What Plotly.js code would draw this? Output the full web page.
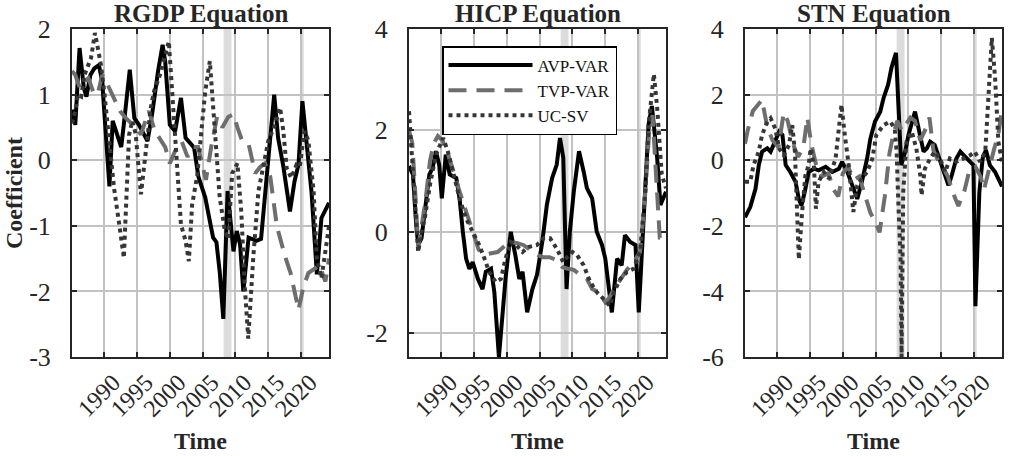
<!DOCTYPE html>
<html>
<head>
<meta charset="utf-8">
<script src="https://cdn.plot.ly/plotly-3.0.1.min.js"></script>
<style>
  html, body { margin: 0; padding: 0; background: #fff; }
  #chart { width: 1010px; height: 456px; }
</style>
</head>
<body>
<div id="chart"></div>
<script>
// ---- data (year, coefficient) ----
const seriesNames = ['AVP-VAR', 'TVP-VAR', 'UC-SV'];
const panelTitles = ['RGDP Equation', 'HICP Equation', 'STN Equation'];
const xTicks = [1990, 1995, 2000, 2005, 2010, 2015, 2020];
const recStart = [2008.2, 2019.85];
const recEnd = [2009.4, 2020.4];

// RGDP equation
const rgdpAvpT = [1985.1, 1985.6, 1986.25, 1986.9, 1987.3, 1987.9, 1988.5, 1989.2, 1989.7, 1990.1, 1990.8, 1991.3, 1992.2, 1992.6, 1993.0, 1993.9, 1994.6, 1995.3, 1996.6, 1997.3, 1998.2, 1998.9, 1999.3, 2000.0, 2000.8, 2001.7, 2002.4, 2003.7, 2004.35, 2005.4, 2006.1, 2006.6, 2007.1, 2007.6, 2008.15, 2008.8, 2009.7, 2010.2, 2010.7, 2011.2, 2012.0, 2013.2, 2013.9, 2015.9, 2016.5, 2017.3, 2018.3, 2019.0, 2019.6, 2020.2, 2021.6, 2022.4, 2023.1, 2024.25];
const rgdpAvpV = [0.77, 0.54, 1.71, 1.1, 0.97, 1.3, 1.4, 1.45, 1.2, 0.6, -0.4, 0.6, 0.3, 0.2, 0.55, 1.38, 0.64, 0.54, 0.29, 0.7, 1.35, 1.76, 1.5, 0.54, 0.44, 0.95, 0.34, 0.19, -0.25, -0.57, -0.93, -1.18, -1.25, -1.7, -2.42, -0.47, -1.39, -1.08, -1.28, -2.0, -1.18, -1.23, -1.2, 1.0, 0.34, -0.1, -0.78, -0.32, -0.07, 0.9, -0.5, -1.74, -0.88, -0.65];
const rgdpTvpT = [1985.1, 1985.6, 1986.3, 1987.0, 1987.6, 1988.3, 1989.0, 1989.7, 1990.3, 1991.5, 1992.4, 1993.3, 1994.4, 1995.6, 1996.8, 1997.7, 1998.6, 1999.3, 2000.0, 2000.8, 2001.8, 2002.7, 2003.5, 2004.3, 2005.5, 2006.3, 2007.2, 2008.0, 2008.9, 2009.7, 2010.3, 2011.0, 2012.0, 2013.0, 2013.8, 2014.5, 2015.3, 2016.3, 2017.5, 2018.4, 2019.6, 2020.3, 2021.1, 2022.0, 2022.8, 2023.7, 2024.25];
const rgdpTvpV = [1.36, 1.3, 1.1, 1.2, 1.25, 1.05, 1.0, 1.3, 1.2, 0.95, 0.75, 0.64, 0.54, 0.39, 0.75, 0.45, 0.3, 0.2, -0.05, 0.14, 0.29, 0.05, 0.2, 0.2, -0.3, 0.2, 0.66, 0.5, 0.66, 0.7, 0.5, 0.3, 0.25, -0.2, -0.1, -0.05, -0.25, -1.0, -1.45, -1.72, -2.28, -1.95, -1.72, -1.65, -1.6, -1.85, -1.5];
const rgdpUcT = [1985.1, 1985.6, 1986.0, 1986.5, 1987.0, 1988.0, 1988.6, 1989.5, 1990.0, 1990.8, 1991.5, 1992.3, 1993.0, 1993.3, 1993.8, 1994.3, 1994.8, 1995.6, 1996.4, 1997.1, 1997.6, 1998.5, 1999.85, 2000.2, 2000.7, 2001.2, 2001.7, 2002.4, 2002.9, 2003.4, 2004.2, 2004.9, 2005.4, 2006.1, 2006.6, 2007.1, 2007.6, 2008.4, 2008.9, 2009.5, 2010.3, 2010.9, 2011.4, 2011.95, 2012.7, 2013.5, 2014.3, 2015.0, 2016.0, 2016.8, 2017.3, 2017.8, 2018.5, 2019.3, 2019.8, 2020.5, 2021.1, 2021.9, 2022.4, 2023.1, 2023.9, 2024.25];
const rgdpUcV = [0.56, 0.75, 1.0, 0.97, 1.3, 1.56, 1.94, 1.46, 1.05, 0.29, -0.42, -0.98, -1.49, -0.78, 0.39, 0.6, 0.4, -0.52, 0.14, 0.8, 1.05, 1.3, 1.81, 1.3, 0.54, -0.32, -0.98, -1.23, -1.54, -0.68, -0.22, 0.54, 1.05, 1.51, 0.75, 0.04, -0.57, -1.08, -1.2, -0.2, -0.05, -0.8, -1.9, -2.72, -1.5, -0.47, -0.07, 0.29, 0.54, 0.8, 0.44, -0.12, -0.27, -0.07, -0.1, 0.44, 0.3, -0.47, -1.5, -1.8, -1.25, -1.0];

// HICP equation
const hicpAvpT = [1985.1, 1985.7, 1986.2, 1986.5, 1987.0, 1987.5, 1988.2, 1988.7, 1989.2, 1989.7, 1990.1, 1990.7, 1991.3, 1992.3, 1992.8, 1993.3, 1993.8, 1994.3, 1994.8, 1995.6, 1996.3, 1996.8, 1997.6, 1998.1, 1998.8, 1999.8, 2000.6, 2001.3, 2001.9, 2002.4, 2003.1, 2003.9, 2004.6, 2005.4, 2006.1, 2006.9, 2007.6, 2008.1, 2008.6, 2009.1, 2009.6, 2010.2, 2011.0, 2011.7, 2012.2, 2013.0, 2013.7, 2014.5, 2015.0, 2016.0, 2016.8, 2017.5, 2018.0, 2018.8, 2019.6, 2020.1, 2020.8, 2021.6, 2022.1, 2022.9, 2023.4, 2024.25];
const hicpAvpV = [1.3, 1.13, 0.13, -0.26, -0.13, 0.4, 1.13, 1.26, 1.59, 1.32, 0.66, 1.52, 1.13, 1.06, 0.66, 0.0, -0.53, -0.73, -0.6, -0.93, -1.13, -0.79, -0.73, -1.19, -2.47, -0.93, 0.0, -0.46, -0.93, -0.79, -1.59, -1.13, -0.85, -0.2, 0.53, 1.06, 1.32, 1.85, 1.46, -1.13, 0.0, 0.79, 1.59, 1.19, 0.86, 0.66, 0.0, -0.26, -0.53, -1.59, -0.53, -0.66, -0.07, -0.2, -0.26, -1.59, 0.0, 2.12, 2.48, 1.46, 0.53, 0.79];
const hicpTvpT = [1985.1, 1985.6, 1986.0, 1986.5, 1987.0, 1987.6, 1988.3, 1988.9, 1989.5, 1990.2, 1991.0, 1991.8, 1992.8, 1993.8, 1994.8, 1995.7, 1996.6, 1997.6, 1998.6, 1999.5, 2000.5, 2001.5, 2002.5, 2003.5, 2004.5, 2005.5, 2006.5, 2007.6, 2008.5, 2009.3, 2010.2, 2011.2, 2012.2, 2013.0, 2014.0, 2015.0, 2015.6, 2016.5, 2017.3, 2018.3, 2019.3, 2020.3, 2021.0, 2021.7, 2022.2, 2022.8, 2023.3, 2024.25];
const hicpTvpV = [2.0, 1.75, 0.9, -0.3, 0.1, 0.6, 1.4, 1.75, 1.89, 1.8, 1.55, 1.2, 0.8, 0.4, 0.0, -0.35, -0.45, -0.43, -0.4, -0.3, -0.2, -0.22, -0.26, -0.35, -0.45, -0.5, -0.5, -0.56, -0.7, -0.73, -0.75, -0.85, -0.93, -1.13, -1.19, -1.39, -1.3, -1.1, -0.93, -0.75, -0.6, -0.4, 0.6, 2.0, 2.3, 1.0, -0.12, -0.17];
const hicpUcT = [1985.1, 1985.3, 1985.8, 1986.5, 1987.0, 1987.5, 1988.3, 1989.2, 1990.3, 1991.0, 1991.8, 1992.8, 1993.8, 1994.8, 1995.8, 1996.6, 1997.3, 1998.3, 1999.1, 1999.8, 2000.6, 2001.4, 2002.4, 2003.3, 2004.6, 2005.6, 2006.6, 2007.6, 2008.6, 2009.4, 2010.0, 2010.7, 2011.7, 2012.7, 2013.7, 2014.7, 2015.7, 2016.3, 2017.3, 2018.3, 2019.3, 2020.3, 2021.1, 2021.6, 2022.4, 2022.9, 2023.6, 2024.25];
const hicpUcV = [2.38, 1.99, 0.79, -0.4, 0.0, 0.26, 0.93, 1.52, 1.85, 1.59, 1.19, 0.66, 0.26, 0.0, -0.26, -0.53, -0.79, -0.99, -0.93, -0.53, -0.2, -0.26, -0.4, -0.3, -0.26, -0.13, -0.13, -0.33, -0.6, -0.46, -0.4, -0.46, -0.66, -0.99, -1.19, -1.32, -1.46, -1.19, -0.93, -0.79, -0.73, -0.4, 0.79, 2.12, 3.11, 2.45, 1.13, 0.86];

// STN equation
const stnAvpT = [1985.1, 1985.9, 1986.7, 1987.2, 1987.7, 1988.5, 1989.0, 1989.7, 1990.3, 1990.8, 1991.3, 1992.0, 1992.8, 1993.3, 1993.7, 1994.2, 1994.8, 1995.6, 1996.3, 1997.4, 1998.4, 1999.4, 1999.9, 2000.7, 2001.4, 2002.2, 2002.9, 2003.7, 2004.2, 2004.9, 2005.7, 2006.2, 2006.9, 2007.4, 2008.1, 2008.6, 2008.9, 2009.5, 2010.0, 2011.0, 2011.8, 2012.3, 2012.8, 2013.3, 2014.0, 2014.5, 2015.3, 2016.1, 2016.6, 2017.3, 2017.9, 2018.6, 2019.4, 2019.9, 2020.2, 2020.8, 2021.3, 2021.8, 2022.4, 2023.2, 2024.25];
const stnAvpV = [-1.74, -1.43, -0.87, -0.15, 0.26, 0.36, 0.26, 0.56, 0.87, 0.77, -0.15, -0.36, -0.66, -1.18, -1.38, -0.97, -0.36, -0.26, -0.31, -0.2, -0.36, -0.26, -0.05, -0.36, -0.77, -1.18, -0.66, 0.05, 0.66, 1.18, 1.48, 1.89, 2.3, 2.81, 3.27, 1.07, -0.15, 0.26, 0.77, 1.48, 0.77, 0.26, 0.36, 0.56, 0.46, 0.15, -0.36, -0.77, -0.46, 0.05, 0.26, 0.1, -0.05, -0.15, -4.45, -0.97, 0.05, 0.31, -0.15, -0.36, -0.8];
const stnTvpT = [1985.1, 1985.5, 1986.3, 1987.0, 1987.7, 1988.5, 1989.3, 1990.2, 1991.0, 1991.6, 1992.4, 1993.2, 1994.0, 1994.6, 1995.2, 1996.0, 1996.8, 1997.8, 1998.6, 1999.3, 2000.0, 2000.8, 2001.7, 2002.5, 2003.5, 2004.2, 2005.0, 2005.6, 2006.4, 2007.1, 2007.7, 2008.3, 2009.0, 2009.6, 2010.3, 2011.0, 2011.8, 2012.5, 2013.2, 2013.8, 2014.5, 2015.2, 2016.0, 2016.8, 2017.6, 2018.5, 2019.3, 2020.2, 2021.0, 2021.5, 2022.2, 2023.0, 2023.7, 2024.25];
const stnTvpV = [0.5, 0.9, 1.5, 1.65, 1.84, 1.0, 0.6, 0.4, 1.45, 1.2, 0.5, 0.1, 0.4, 1.3, 0.5, -0.2, -0.5, -0.4, -0.9, -1.1, -0.4, -0.2, -0.6, -0.5, -1.2, -1.6, -1.9, -2.2, -1.1, 0.2, 0.8, 1.2, 0.9, 1.1, 1.3, 1.2, 0.6, 0.9, 1.3, 0.3, 0.0, -0.2, -0.5, -1.0, -1.4, -0.95, -0.3, -0.2, -0.5, -0.9, -0.3, 0.3, 0.8, 1.55];
const stnUcT = [1985.1, 1985.9, 1986.4, 1987.2, 1987.7, 1988.5, 1989.0, 1989.7, 1990.3, 1991.0, 1991.8, 1992.3, 1992.7, 1993.0, 1993.3, 1993.8, 1994.3, 1994.8, 1995.1, 1995.6, 1995.9, 1996.3, 1997.1, 1997.9, 1998.9, 1999.4, 1999.8, 2000.3, 2000.9, 2001.6, 2002.2, 2002.9, 2003.7, 2004.5, 2005.1, 2006.2, 2007.2, 2007.9, 2008.2, 2008.4, 2008.8, 2008.95, 2009.2, 2009.7, 2010.5, 2011.2, 2011.8, 2012.0, 2012.5, 2013.3, 2014.0, 2014.8, 2015.6, 2016.3, 2017.3, 2018.4, 2019.4, 2020.1, 2020.9, 2021.7, 2022.2, 2022.7, 2023.2, 2023.7, 2024.25];
const stnUcV = [-0.66, -0.66, -0.15, 0.26, 0.77, 1.18, 1.28, 0.97, 0.36, 0.15, 0.46, 1.07, 0.26, -1.48, -3.02, -1.58, -0.46, -0.15, 0.36, -0.15, -1.48, -0.66, -0.36, -0.56, 0.05, 0.97, 1.69, 0.77, -0.15, -1.58, -0.77, -0.56, -0.36, 0.05, 0.77, 1.07, 1.18, 0.97, 0.26, -0.97, -3.02, -6.0, -1.0, 0.56, 0.87, 0.36, -0.46, -1.07, -0.26, 0.05, 0.26, 0.05, -0.36, 0.05, -0.05, 0.05, 0.15, 0.26, -0.05, 0.26, 2.1, 3.73, 2.5, 0.56, -0.05];

// ---- styling ----
const serif = '"Liberation Serif"';
const ink = '#262626';
const lineStyles = [
  {color: '#000000', width: 4, dash: 'solid'},
  {color: '#6e6e6e', width: 4, dash: '18px,10px'},
  {color: '#363636', width: 4, dash: '4px,4px'}
];

const panels = [
  {t: [rgdpAvpT, rgdpTvpT, rgdpUcT], v: [rgdpAvpV, rgdpTvpV, rgdpUcV], yr: [-3, 2], yt: [-3, -2, -1, 0, 1, 2]},
  {t: [hicpAvpT, hicpTvpT, hicpUcT], v: [hicpAvpV, hicpTvpV, hicpUcV], yr: [-2.47, 4], yt: [-2, 0, 2, 4]},
  {t: [stnAvpT, stnTvpT, stnUcT], v: [stnAvpV, stnTvpV, stnUcV], yr: [-6, 4], yt: [-6, -4, -2, 0, 2, 4]}
];

const W = 1010, H = 456;
const xDom = [[72, 329], [409, 666], [745, 1002]];
const yDom = [(H - 357) / H, (H - 29) / H];

const traces = [];
const layout = {
  width: W, height: H,
  margin: {l: 0, r: 0, t: 0, b: 0},
  paper_bgcolor: '#fff', plot_bgcolor: '#fff',
  font: {family: serif, color: ink},
  showlegend: true,
  legend: {
    x: 442 / W, y: 1 - 46 / H, xanchor: 'left', yanchor: 'top',
    bgcolor: '#fff', bordercolor: '#000', borderwidth: 1.5,
    font: {family: serif, size: 17, color: '#111'},
    itemwidth: 84
  },
  shapes: [],
  annotations: []
};

panels.forEach(function(p, i) {
  const n = i === 0 ? '' : String(i + 1);
  for (let s = 0; s < 3; s++) {
    traces.push({
      x: p.t[s], y: p.v[s],
      xaxis: 'x' + n, yaxis: 'y' + n,
      type: 'scatter', mode: 'lines',
      name: seriesNames[s],
      showlegend: i === 0,
      line: lineStyles[s]
    });
  }
  const axCommon = {
    showline: true, linecolor: ink, linewidth: 2, mirror: 'ticks',
    ticks: 'inside', ticklen: 5, tickwidth: 2, tickcolor: ink,
    showgrid: true, gridcolor: '#c2c2c2', gridwidth: 2,
    zeroline: false
  };
  layout['xaxis' + n] = Object.assign({}, axCommon, {
    domain: [xDom[i][0] / W, xDom[i][1] / W],
    anchor: 'y' + n,
    range: [1985.1, 2024.25],
    tickvals: xTicks, ticktext: xTicks.map(String),
    tickangle: -45,
    tickfont: {family: serif, size: 24, color: ink},
    ticklabelshift: 9
  });
  layout['yaxis' + n] = Object.assign({}, axCommon, {
    domain: yDom,
    anchor: 'x' + n,
    range: p.yr,
    tickvals: p.yt, ticktext: p.yt.map(function(v) { return String(v); }),
    tickfont: {family: serif, size: 26, color: ink},
    ticklabelstandoff: 14
  });
  for (let k = 0; k < recStart.length; k++) {
    layout.shapes.push({
      type: 'rect', xref: 'x' + n, yref: 'y' + n + ' domain',
      x0: recStart[k], x1: recEnd[k], y0: 0, y1: 1,
      fillcolor: '#dcdcdc', line: {width: 0}, layer: 'below'
    });
  }
  const cx = (xDom[i][0] + xDom[i][1]) / 2 / W;
  layout.annotations.push({
    text: '<b>' + panelTitles[i] + '</b>', xref: 'paper', yref: 'paper',
    x: cx, y: 1 - 14 / H, xanchor: 'center', yanchor: 'middle',
    showarrow: false, font: {family: serif, size: 25, color: ink}
  });
  layout.annotations.push({
    text: '<b>Time</b>', xref: 'paper', yref: 'paper',
    x: cx, y: 1 - 441 / H, xanchor: 'center', yanchor: 'middle',
    showarrow: false, font: {family: serif, size: 24, color: ink}
  });
});

layout.annotations.push({
  text: '<b>Coefficient</b>', xref: 'paper', yref: 'paper',
  x: 14 / W, y: 1 - 193 / H, xanchor: 'center', yanchor: 'middle',
  textangle: -90, showarrow: false, font: {family: serif, size: 24, color: ink}
});

Plotly.newPlot('chart', traces, layout, {staticPlot: true, displayModeBar: false});
</script>
</body>
</html>
